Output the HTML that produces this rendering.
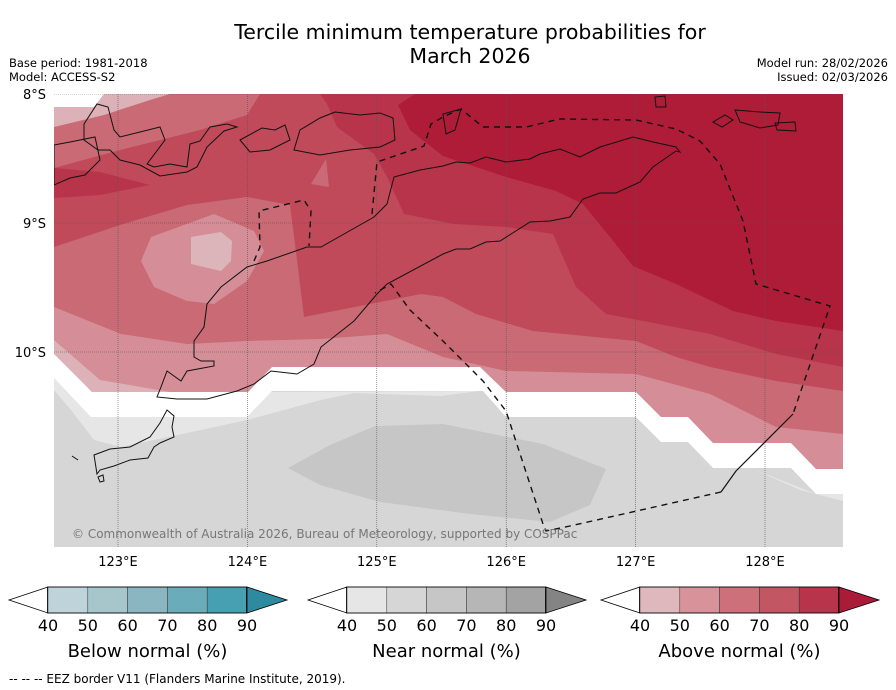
<!DOCTYPE html>
<html><head><meta charset="utf-8"><style>
body{margin:0;background:#fff;width:896px;height:690px;overflow:hidden;font-family:"Liberation Sans","DejaVu Sans",sans-serif}
svg{display:block}
</style></head><body>
<svg id="chart" width="896" height="690" viewBox="0 0 896 690" xmlns="http://www.w3.org/2000/svg">
<text x="470" y="39" font-size="20.5" text-anchor="middle" font-family="DejaVu Sans, sans-serif">Tercile minimum temperature probabilities for</text>
<text x="470" y="63" font-size="20.5" text-anchor="middle" font-family="DejaVu Sans, sans-serif">March 2026</text>
<text x="9" y="67" font-size="11.5" font-family="DejaVu Sans, sans-serif">Base period: 1981-2018</text>
<text x="9" y="81" font-size="11.5" font-family="DejaVu Sans, sans-serif">Model: ACCESS-S2</text>
<text x="888" y="67" font-size="11.5" text-anchor="end" font-family="DejaVu Sans, sans-serif">Model run: 28/02/2026</text>
<text x="888" y="81" font-size="11.5" text-anchor="end" font-family="DejaVu Sans, sans-serif">Issued: 02/03/2026</text>
<defs><clipPath id="mapclip"><rect x="54" y="94" width="789" height="453"/></clipPath></defs>
<g id="map" clip-path="url(#mapclip)">
<rect x="54" y="94" width="789" height="453" fill="#d6d6d6"/>
<polygon fill="#e6e6e6" points="54,378 91,417 247,417 271,392 480,391 440,396 354,393 321,400 247,420 187,433 121,447 94,440 71,410 54,390"/>
<polygon fill="#e6e6e6" points="753,469 816,494 843,494 843,501 800,490"/>
<polygon fill="#c6c6c6" points="288,468 330,445 375,426 443,424 543,444 606,469 590,505 550,522 470,514 380,502 320,485"/>
<polygon fill="#ffffff" points="54,340 92,392 248,392 272,367 480,367 506,392 636,392 661,417 688,417 713,443 791,443 816,469 843,469 843,494 816,494 791,468 713,468 688,442 661,442 636,417 506,417 483,391 272,391 247,417 91,417 54,378"/>
<polygon fill="#d58e97" points="54,94 843,94 843,469 816,469 791,443 713,443 688,417 661,417 636,392 506,392 480,367 272,367 248,392 92,392 54,352"/>
<polygon fill="#dcb1b7" points="54,107 94,107 104,94 200,94 150,110 104,122 54,127"/>
<polygon fill="#dcb1b7" points="54,340 100,380 170,392 92,392 54,354"/>
<polygon fill="#ffffff" points="54,94 104,94 94,107 54,107"/>
<polygon fill="#c96a75" points="54,127 104,115 150,100 170,94 843,94 843,434 776,427 710,394 636,374 506,371 443,357 387,334 321,339 247,341 187,344 121,334 54,307"/>
<polygon fill="#d58e97" points="141,261 151,237 214,214 254,231 264,251 247,281 214,304 187,301 154,287"/>
<polygon fill="#dcb5ba" points="191,237 221,232 232,241 231,261 221,271 191,264"/>
<polygon fill="#c04a5a" points="54,168 120,150 200,130 247,115 260,94 843,94 843,391 776,381 710,367 676,357 636,341 533,331 476,314 443,297 421,294 304,317 297,260 290,205 247,197 187,205 120,225 54,247"/>
<polygon fill="#c96a75" points="311,184 326,159 329,187"/>
<polygon fill="#b8344a" points="320,94 843,94 843,367 776,354 710,334 643,321 606,314 576,287 553,234 506,227 454,224 404,214 387,177 374,154 337,127 327,104"/>
<polygon fill="#b8344a" points="54,168 100,172 150,185 100,195 54,198"/>
<polygon fill="#ae1c38" points="415,94 843,94 843,331 776,321 733,311 676,284 633,266 610,237 583,204 556,191 506,177 443,156 410,130 398,105"/>
<g id="grid"></g>
<g fill="none" stroke="#111" stroke-width="1">
<polygon points="680,152 676,147 653,142 633,137 610,144 600,147 580,157 560,149 540,154 530,159 506,162 486,157 470,163 456,162 443,166 420,170 394,177 387,204 374,217 344,234 321,247 307,247 267,261 247,267 221,287 207,304 204,327 194,341 194,357 201,361 214,361 214,366 187,371 181,381 167,371 161,387 157,397 177,399 207,399 237,391 254,384 271,371 297,374 314,364 321,347 354,321 377,294 387,284 443,254 456,249 470,249 486,242 500,241 530,222 550,221 570,217 583,199 600,193 616,193 640,182 653,167 676,151"/>
<polygon points="84,124 97,104 108,107 114,130 120,137 160,127 165,140 147,164 154,167 170,164 187,167 190,144 200,141 210,127 227,124 237,127 224,131 207,147 197,167 187,172 160,176 140,165 120,160 110,150 98,150 84,140"/>
<polygon points="54,145 70,142 95,137 100,160 85,175 70,178 54,185"/>
<polygon points="294,150 300,130 320,118 335,112 360,115 380,113 393,118 395,140 380,147 350,150 320,155"/>
<polygon points="240,140 262,128 275,130 285,125 290,140 270,150 250,152"/>
<polygon points="443,114 461,109 455,130 446,134"/>
<polygon points="655,97 665,96 666,107 656,107"/>
<polygon points="713,122 725,115 733,120 722,127"/>
<polygon points="735,110 760,112 780,113 778,125 760,128 740,122"/>
<polygon points="775,123 795,122 796,131 777,130"/>
<polygon points="167,410 174,416 172,427 174,437 160,443 154,447 148,458 130,460 114,466 100,470 97,474 94,455 110,449 130,447 150,437 160,423"/>
<polygon points="98,477 103,475 104,481 100,482"/>
<polyline points="72,456 78,460"/>
</g>
<g fill="none" stroke="#111" stroke-width="1.4" stroke-dasharray="6,5">
<polyline points="372,214 377,162 424,146 431,124 443,117 461,109 483,127 526,127 560,119 636,120 676,129 700,141 720,164 743,221 756,284 830,306 793,414"/>
<polyline points="721,492 570,526 546,531 543,524 506,411 483,381 443,341 410,310 391,284 375,293"/>
<polyline points="254,261 260,247 259,211 304,200 311,211 309,246"/>
</g>
<polyline fill="none" stroke="#111" stroke-width="1.2" points="793,414 736,471 721,492"/>
<text x="72" y="538" font-size="12" fill="#777" font-family="DejaVu Sans, sans-serif">© Commonwealth of Australia 2026, Bureau of Meteorology, supported by COSPPac</text>
</g>
<g id="axes"></g>
<g id="colorbars"></g>
<text x="9" y="683" font-size="12" font-family="DejaVu Sans, sans-serif">--  --  -- EEZ border V11 (Flanders Marine Institute, 2019).</text>
</svg>
<script>
const lonTicks=[123,124,125,126,127,128];
const lonLabels=["123°E","124°E","125°E","126°E","127°E","128°E"];
const latTicks=[8,9,10];
const latLabels=["8°S","9°S","10°S"];
const cbLevels=[40,50,60,70,80,90];
const cbTitles=["Below normal (%)","Near normal (%)","Above normal (%)"];
const belowColors=["#bfd4da","#a7c6cb","#89b6c0","#6aacb9","#47a0b1","#2e8a9f"];
const nearColors=["#e6e6e6","#d6d6d6","#c6c6c6","#b6b6b6","#a3a3a3","#848484"];
const aboveColors=["#dfb8bd","#d8939a","#cd7079","#c35663","#b8344a","#ab1a36"];
const NS="http://www.w3.org/2000/svg";
function xLon(v){return 118+(v-123)*129.4;}
function yLat(v){return 94+(v-8)*129;}
function mk(t,a,p){const e=document.createElementNS(NS,t);for(const k in a)e.setAttribute(k,a[k]);p.appendChild(e);return e;}
const grid=document.getElementById('grid');
const axes=document.getElementById('axes');
lonTicks.forEach((v,i)=>{
  const l=mk('line',{x1:xLon(v),x2:xLon(v),y1:94,y2:547,stroke:'#555','stroke-width':0.6,'stroke-dasharray':'1,1'},grid);
  
  
  const t=mk('text',{x:xLon(v),y:566,'font-size':13,'text-anchor':'middle','font-family':'DejaVu Sans, sans-serif'},axes);
  t.textContent=lonLabels[i];
  
  
});
latTicks.forEach((v,i)=>{
  const l=mk('line',{x1:54,x2:843,y1:yLat(v),y2:yLat(v),stroke:'#555','stroke-width':0.6,'stroke-dasharray':'1,1'},grid);
  
  
  const t=mk('text',{x:46,y:yLat(v)+5,'font-size':13,'text-anchor':'end','font-family':'DejaVu Sans, sans-serif'},axes);
  t.textContent=latLabels[i];
  
  
});
const cbg=document.getElementById('colorbars');
const cbStarts=[48,347,640];
[belowColors,nearColors,aboveColors].forEach((cols,j)=>{
  const x0=cbStarts[j],w=39.8,y0=587,h=26;
  const g=mk('g',{},cbg);
  
  
  const lt=mk('polygon',{points:`${x0},${y0} ${x0-39},${y0+h/2} ${x0},${y0+h}`,fill:'#fff',stroke:'#000','stroke-width':0.8},g);
  
  
  for(let i=0;i<cbLevels.length-1;i++){
    const r=mk('rect',{x:x0+i*w,y:y0,width:w,height:h,fill:cols[i],stroke:'#333','stroke-width':0.5},g);
    
    
  }
  const xe=x0+5*w;
  const rt=mk('polygon',{points:`${xe},${y0} ${xe+40},${y0+h/2} ${xe},${y0+h}`,fill:cols[5],stroke:'#000','stroke-width':0.8},g);
  
  
  mk('rect',{x:x0-0.5,y:y0,width:5*w,height:h,fill:'none',stroke:'#000','stroke-width':0.8},g);
  cbLevels.forEach((v,i)=>{
    const t=mk('text',{x:x0+i*w,y:y0+h+18,'font-size':16,'text-anchor':'middle','font-family':'DejaVu Sans, sans-serif'},g);
    t.textContent=v;
    
    
  });
  const tt=mk('text',{x:x0+2.5*w,y:657,'font-size':18,'text-anchor':'middle','font-family':'DejaVu Sans, sans-serif'},g);
  tt.textContent=cbTitles[j];
  
  
});
</script>
</body></html>
